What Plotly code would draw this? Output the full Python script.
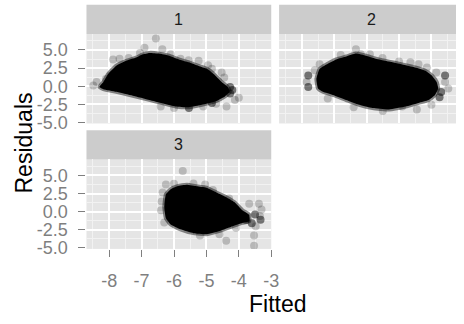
import plotly.graph_objects as go

# ---------------- data ----------------
x_ticks = [-8, -7, -6, -5, -4, -3]
x_tick_labels = ["-8", "-7", "-6", "-5", "-4", "-3"]
y_ticks = [-5.0, -2.5, 0.0, 2.5, 5.0]
y_tick_labels = ["-5.0", "-2.5", "0.0", "2.5", "5.0"]
facet_labels = ["1", "2", "3"]

# dense core outline of each residual cloud (Fitted, Residuals)
p1_core_x = [-8.30, -8.18, -8.03, -7.78, -7.47, -7.17, -6.96, -6.76, -6.46, -6.15, -5.85, -5.54, -5.24, -4.98,
             -4.73, -4.53, -4.34, -4.28, -4.43, -4.73, -5.14, -5.54, -5.95, -6.36, -6.76, -7.27, -7.78, -8.18]
p1_core_y = [-0.1, 0.58, 1.70, 2.83, 3.5, 3.95, 4.4, 4.6, 4.5, 4.2, 3.7, 3.3, 2.8, 2.4,
             1.5, 0.6, -0.1, -0.76, -1.4, -2.1, -2.56, -2.9, -2.78, -2.33, -1.88, -1.3, -0.76, -0.4]
p2_core_x = [-7.55, -7.45, -7.24, -6.94, -6.63, -6.33, -6.02, -5.72, -5.31, -4.90, -4.50, -4.19, -3.99, -3.84,
             -3.79, -3.89, -4.09, -4.40, -4.80, -5.31, -5.82, -6.23, -6.63, -7.04, -7.35, -7.50]
p2_core_y = [1.0, 2.4, 3.0, 3.7, 4.1, 4.5, 4.2, 3.8, 3.4, 3.0, 2.6, 2.15, 1.5, 0.6,
             -0.3, -1.2, -1.9, -2.3, -2.8, -3.2, -3.0, -2.56, -1.9, -1.2, -0.76, -0.3]
p3_core_x = [-6.30, -6.25, -6.10, -5.90, -5.60, -5.30, -5.00, -4.69, -4.39, -4.14, -3.89, -3.68, -3.68,
             -3.89, -4.19, -4.59, -4.99, -5.40, -5.80, -6.10, -6.25]
p3_core_y = [0.66, 2.4, 3.1, 3.5, 3.7, 3.5, 3.3, 2.65, 2.0, 1.33, 0.2, -0.44, -1.33,
             -1.55, -2.0, -2.65, -3.1, -2.96, -2.43, -1.77, -0.9]

# sparse points around the clouds
p1_sparse_x = [-6.56, -6.91, -6.36, -7.88, -7.68, -6.10, -5.80, -5.24, -4.83, -4.53, -4.12, -4.38, -6.41,
               -8.49, -8.39, -4.00, -7.40, -7.05, -5.55, -4.95, -4.45, -4.70, -6.00, -5.10, -7.95, -8.10]
p1_sparse_y = [6.6, 5.3, 5.1, 3.7, 3.8, 4.4, 3.8, 3.5, 2.4, 1.9, -1.9, -2.8, -2.8,
               0.1, 0.6, -1.6, 3.9, 4.6, 3.6, 2.9, 1.2, -2.4, -3.0, -2.8, 1.5, 1.0]
p1_dense_x = [-4.27, -4.27, -4.83, -5.54, -4.20]
p1_dense_y = [-0.1, -1.0, -2.3, -3.0, -0.5]
p2_sparse_x = [-7.45, -6.33, -6.18, -5.51, -4.65, -4.40, -4.14, -3.48, -3.58, -4.45, -4.00, -4.90,
               -7.85, -6.80, -5.90, -5.00, -3.85, -5.50, -6.40, -7.20, -7.60]
p2_sparse_y = [3.05, 5.1, 4.4, 3.9, 3.3, 3.05, 2.6, -0.3, 0.6, -3.2, -2.56, -2.8,
               0.6, 4.3, 4.4, 3.4, 1.9, -3.4, -2.9, -1.7, 2.2]
p2_dense_x = [-7.80, -7.80, -3.58, -3.75, -3.70]
p2_dense_y = [1.5, -0.1, 1.5, -1.5, -0.8]
p3_sparse_x = [-5.73, -6.35, -6.40, -6.25, -6.00, -5.04, -3.68, -3.38, -3.48, -3.53, -3.53, -4.39,
               -4.09, -3.30, -3.35, -6.38, -5.40, -4.80, -4.30, -4.60, -5.20, -6.30]
p3_sparse_y = [5.6, 2.65, 0.2, 3.76, 3.85, 3.76, 1.1, 1.1, -2.0, -3.3, -4.7, -4.0,
               -2.2, 0.3, -0.6, 1.4, 3.9, 3.0, 1.8, -3.1, -3.3, -1.5]
p3_dense_x = [-3.33, -3.78, -3.50, -3.60]
p3_dense_y = [-1.1, -1.1, -0.4, -1.6]

# ---------------- layout geometry ----------------
W, H = 464, 324
FONT = "Liberation Sans, Arial, sans-serif"
TICK_GREY = "#7F7F7F"

def px_x(p):
    return p / W

def px_y(p):
    return 1 - p / H

X_RANGE = [-8.70, -3.0]
PX_PER_X = (276 - 88) / (X_RANGE[1] - X_RANGE[0])
X2_RANGE = [-8.70, -8.70 + (W - 284) / PX_PER_X]
Y_RANGE = [-5.13, 7.2]

fig = go.Figure()

panels = [
    ("x2", "y2", p1_core_x, p1_core_y, p1_sparse_x, p1_sparse_y, p1_dense_x, p1_dense_y),
    ("x3", "y3", p2_core_x, p2_core_y, p2_sparse_x, p2_sparse_y, p2_dense_x, p2_dense_y),
    ("x", "y", p3_core_x, p3_core_y, p3_sparse_x, p3_sparse_y, p3_dense_x, p3_dense_y),
]
for xa, ya, cx, cy, sx, sy, dx, dy in panels:
    fig.add_trace(go.Scatter(x=sx, y=sy, xaxis=xa, yaxis=ya, mode="markers",
                             marker=dict(size=8, color="rgba(0,0,0,0.2)", line=dict(width=0)),
                             hoverinfo="skip", showlegend=False))
    fig.add_trace(go.Scatter(x=cx + cx[:1], y=cy + cy[:1], xaxis=xa, yaxis=ya, mode="lines",
                             fill="toself", fillcolor="#000000",
                             line=dict(color="rgba(0,0,0,0.45)", width=4, shape="spline", smoothing=0.4),
                             hoverinfo="skip", showlegend=False))
    fig.add_trace(go.Scatter(x=dx, y=dy, xaxis=xa, yaxis=ya, mode="markers",
                             marker=dict(size=8, color="rgba(0,0,0,0.5)", line=dict(width=0)),
                             hoverinfo="skip", showlegend=False))

grid_common = dict(showgrid=True, gridcolor="#FFFFFF", gridwidth=1.5, zeroline=False, showline=False)
x_minor = dict(dtick=0.5, tick0=-8, showgrid=True, gridcolor="#F2F2F2", gridwidth=0.8, ticks="")
y_minor = dict(dtick=1.25, tick0=0, showgrid=True, gridcolor="#F2F2F2", gridwidth=0.8, ticks="")
tickfont = dict(family=FONT, size=18, color=TICK_GREY)

dom_x1 = [px_x(88), px_x(276)]
dom_x2 = [px_x(284), 1.0]
dom_y_top = [px_y(127), px_y(35)]
dom_y_bot = [px_y(256), px_y(164)]

fig.update_layout(
    width=W, height=H, margin=dict(l=0, r=0, t=0, b=0),
    paper_bgcolor="#FFFFFF", plot_bgcolor="#E5E5E5",
    xaxis=dict(domain=dom_x1, anchor="y", range=X_RANGE, tickmode="array", tickvals=x_ticks,
               ticktext=x_tick_labels, ticks="outside", ticklen=7, tickwidth=1, tickcolor=TICK_GREY,
               tickfont=tickfont, minor=x_minor, ticklabelstandoff=9, **grid_common),
    yaxis=dict(domain=dom_y_bot, anchor="x", range=Y_RANGE, tickmode="array", tickvals=y_ticks,
               ticktext=y_tick_labels, ticks="outside", ticklen=7, tickwidth=1, tickcolor=TICK_GREY,
               tickfont=tickfont, minor=y_minor, ticklabelstandoff=7, **grid_common),
    xaxis2=dict(domain=dom_x1, anchor="y2", range=X_RANGE, tickmode="array", tickvals=x_ticks,
                showticklabels=False, ticks="", minor=x_minor, **grid_common),
    yaxis2=dict(domain=dom_y_top, anchor="x2", range=Y_RANGE, tickmode="array", tickvals=y_ticks,
                ticktext=y_tick_labels, ticks="outside", ticklen=7, tickwidth=1, tickcolor=TICK_GREY,
                tickfont=tickfont, minor=y_minor, ticklabelstandoff=7, **grid_common),
    xaxis3=dict(domain=dom_x2, anchor="y3", range=X2_RANGE, tickmode="array", tickvals=x_ticks,
                showticklabels=False, ticks="", minor=x_minor, **grid_common),
    yaxis3=dict(domain=dom_y_top, anchor="x3", range=Y_RANGE, tickmode="array", tickvals=y_ticks,
                showticklabels=False, ticks="", minor=y_minor, **grid_common),
)

# facet strips
strips = [
    (88, 276, 5, 35, facet_labels[0], 182),
    (284, W, 5, 35, facet_labels[1], 378),
    (88, 276, 134, 164, facet_labels[2], 182),
]
for x0, x1, y0, y1, lab, cx in strips:
    fig.add_shape(type="rect", xref="paper", yref="paper", x0=px_x(x0), x1=px_x(x1),
                  y0=px_y(y1), y1=px_y(y0), fillcolor="#CCCCCC", line=dict(width=0), layer="below")
    fig.add_annotation(text=lab, xref="paper", yref="paper", x=px_x(cx), y=px_y((y0 + y1) / 2),
                       showarrow=False, xanchor="center", yanchor="middle",
                       font=dict(family=FONT, size=16, color="#1A1A1A"))

# axis titles
fig.add_annotation(text="Fitted", xref="paper", yref="paper", x=px_x(283), y=px_y(313),
                   showarrow=False, xanchor="center", yanchor="middle", borderpad=0,
                   font=dict(family=FONT, size=23, color="#000000"))
fig.add_annotation(text="Residuals", xref="paper", yref="paper", x=px_x(24), y=px_y(147),
                   showarrow=False, xanchor="center", yanchor="middle", textangle=-90,
                   font=dict(family=FONT, size=23, color="#000000"))

fig.write_html("out.html", config={"displayModeBar": False},
               post_script="document.body.style.margin='0';document.body.style.overflow='hidden';")
